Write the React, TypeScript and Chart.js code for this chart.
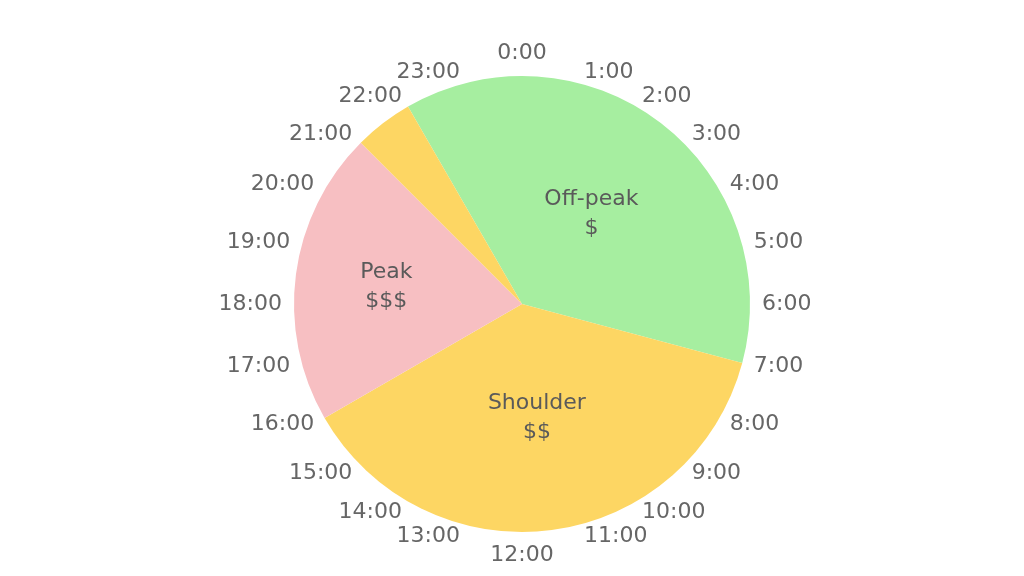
import React, { useEffect, useRef } from "react";
import { Chart, registerables } from "chart.js";

Chart.register(...registerables);

const hourLabels = [
  "0:00", "1:00", "2:00", "3:00", "4:00", "5:00", "6:00", "7:00",
  "8:00", "9:00", "10:00", "11:00", "12:00", "13:00", "14:00", "15:00",
  "16:00", "17:00", "18:00", "19:00", "20:00", "21:00", "22:00", "23:00",
];
const tariffNames = ["Off-peak", "Shoulder", "Peak", "Shoulder"];
const tariffPrices = ["$", "$$", "$$$", ""];
const tariffHours = [9, 9, 5, 1];
const startHour = 22;

const sliceColors = ["#a6eea0", "#fdd663", "#f7bfc2", "#fdd663"];
const labelRadiusFactor = [0.5, 0.5, 0.6, 0.6];
const FONT = '"DejaVu Sans", "Noto Sans", sans-serif';

const clockLabelsPlugin = {
  id: "clockLabels",
  afterDatasetsDraw(chart: any) {
    const meta = chart.getDatasetMeta(0);
    const arcs = meta.data;
    if (!arcs || !arcs.length) return;
    const ctx = chart.ctx;
    const first = arcs[0].getProps(["x", "y", "startAngle", "outerRadius"], true);
    const cx = first.x;
    const cy = first.y;
    const R = first.outerRadius;
    const step = (Math.PI * 2) / hourLabels.length;
    ctx.save();
    ctx.font = `22px ${FONT}`;
    ctx.fillStyle = "#666666";
    const rl = R + 12;
    hourLabels.forEach((lab, h) => {
      const a = first.startAngle + (h - startHour) * step;
      const c = Math.cos(a);
      const s = Math.sin(a);
      const x = cx + rl * c;
      const y = cy + rl * s;
      ctx.textAlign = c > 0.01 ? "left" : c < -0.01 ? "right" : "center";
      ctx.textBaseline = s < -0.99 ? "bottom" : s > 0.99 ? "top" : "middle";
      ctx.fillText(lab, x, y);
    });
    // slice labels
    ctx.fillStyle = "#5a5a5a";
    ctx.textAlign = "center";
    ctx.textBaseline = "middle";
    arcs.forEach((arc: any, i: number) => {
      if (!tariffPrices[i]) return;
      const p = arc.getProps(["x", "y", "startAngle", "endAngle", "outerRadius"], true);
      const mid = (p.startAngle + p.endAngle) / 2;
      const r = p.outerRadius * labelRadiusFactor[i];
      const x = p.x + r * Math.cos(mid);
      const y = p.y + r * Math.sin(mid);
      ctx.fillText(tariffNames[i], x, y - 14);
      ctx.fillText(tariffPrices[i], x, y + 15);
    });
    ctx.restore();
  },
};

export default function App() {
  const canvasRef = useRef<HTMLCanvasElement | null>(null);

  useEffect(() => {
    if (!canvasRef.current) return;
    const chart = new Chart(canvasRef.current, {
      type: "pie",
      data: {
        labels: tariffNames,
        datasets: [
          {
            data: tariffHours,
            backgroundColor: sliceColors,
            borderWidth: 0,
          },
        ],
      },
      options: {
        animation: false,
        responsive: true,
        maintainAspectRatio: false,
        events: [],
        rotation: (startHour / 24) * 360 - 360,
        layout: { padding: { left: 294, right: 274, top: 76, bottom: 44 } },
        plugins: {
          legend: { display: false },
          tooltip: { enabled: false },
        },
      },
      plugins: [clockLabelsPlugin],
    });
    return () => chart.destroy();
  }, []);

  return (
    <div
      style={{
        position: "fixed",
        left: 0,
        top: 0,
        width: 1024,
        height: 576,
        background: "#ffffff",
      }}
    >
      <canvas ref={canvasRef} />
    </div>
  );
}
